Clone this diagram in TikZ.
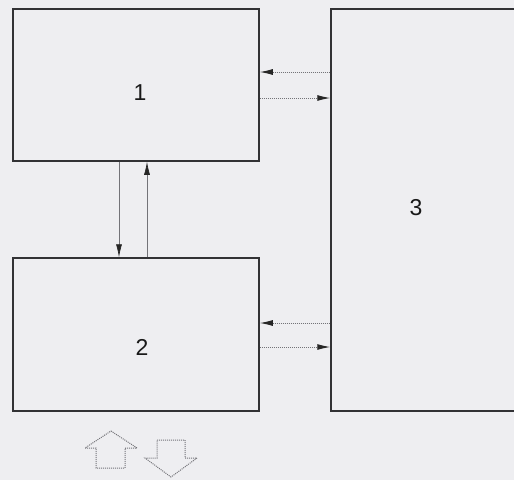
\documentclass[tikz,border=0pt]{standalone}
\usepackage{fontspec}
\setmainfont{Liberation Sans}
\usetikzlibrary{arrows.meta}
\definecolor{bg}{RGB}{238,238,241}
\definecolor{boxline}{RGB}{50,50,53}
\definecolor{connline}{RGB}{115,115,120}
\begin{document}
\begin{tikzpicture}[x=1pt,y=-1pt,
  blk/.style={draw=boxline,line width=1.5pt,inner sep=0pt,minimum width=246pt},
  lbl/.style={font=\fontsize{23}{25}\selectfont,text=black!90},
  dconn/.style={draw=connline,line width=1pt,densely dotted,-{Latex[length=13pt,width=6pt,black!85]}},
  sconn/.style={draw=connline,line width=0.7pt,-{Latex[length=13pt,width=6pt,black!85]}},
  barrow/.style={draw=connline,line width=1pt,densely dotted,line join=miter}]
\useasboundingbox (0,0) rectangle (514,480);
\fill[bg] (0,0) rectangle (514,480);
\node[blk,minimum height=152pt] (b1) at (136,85) {};
\node[blk,minimum height=153pt] (b2) at (136,334.5) {};
\node[blk,minimum width=200pt,minimum height=402pt] (b3) at (431,210) {};
\node[lbl] (t1) at (140,93) {1};
\node[lbl] (t2) at (142,347) {2};
\node[lbl] (t3) at (416,208) {3};
\draw[dconn] (b3.west |- 0,72) -- (b1.east |- 0,72);
\draw[dconn] (b1.east |- 0,98) -- (b3.west |- 0,98);
\draw[dconn] (b3.west |- 0,323) -- (b2.east |- 0,323);
\draw[dconn] (b2.east |- 0,347) -- (b3.west |- 0,347);
\draw[sconn] (b1.south -| 119,0) -- (b2.north -| 119,0);
\draw[sconn] (b2.north -| 147,0) -- (b1.south -| 147,0);
\draw[barrow] (111,431) -- (137,448) -- (125,448) -- (125,468) -- (96,468) -- (96,448) -- (85,448) -- cycle;
\draw[barrow] (157,440) -- (185,440) -- (185,458) -- (197,458) -- (171,477) -- (145,458) -- (157,458) -- cycle;
\end{tikzpicture}
\end{document}
